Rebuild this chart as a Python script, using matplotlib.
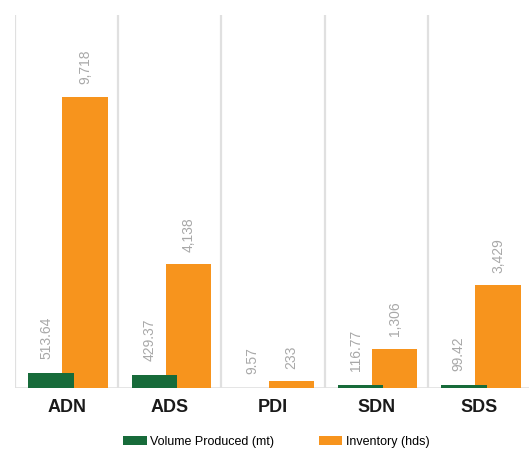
import matplotlib
matplotlib.use('Agg')
from matplotlib import pyplot as plt
import numpy as np

# 数据
categories = ['ADN', 'ADS', 'PDI', 'SDN', 'SDS']
volume_produced = [513.64, 429.37, 9.57, 116.77, 99.42]
inventory = [9718, 4138, 233, 1306, 3429]
volume_labels = ['513.64', '429.37', '9.57', '116.77', '99.42']
inventory_labels = ['9,718', '4,138', '233', '1,306', '3,429']

plt.rcParams['font.family'] = ['Liberation Sans Narrow', 'Liberation Sans', 'DejaVu Sans']

green = '#176b3a'
orange = '#f7941d'
grey_text = '#a8a8a8'

fig = plt.figure(figsize=(5.29, 4.5), dpi=100)
ax = fig.add_axes([15 / 529, 1 - 388 / 450, 516 / 529, 373 / 450])

x = np.arange(len(categories))
width = 0.44
off_green = -0.15
off_orange = 0.18

# 分隔线
for b in np.arange(-0.5, len(categories) - 0.5, 1):
    ax.axvline(b, color='#e0e0e0', linewidth=1.6, zorder=0)
ax.axhline(0, color='#e0e0e0', linewidth=1.2, zorder=0)

ax.bar(x + off_orange, inventory, width, color=orange, label='Inventory (hds)', zorder=2)
ax.bar(x + off_green, volume_produced, width, color=green, label='Volume Produced (mt)', zorder=3)

# 数值标签
for i in range(len(categories)):
    ax.annotate(volume_labels[i], (x[i] + off_green - 0.05, volume_produced[i]),
                xytext=(0, 10), textcoords='offset points', rotation=90,
                ha='center', va='bottom', fontsize=10, color=grey_text)
    ax.annotate(inventory_labels[i], (x[i] + off_orange, inventory[i]),
                xytext=(0, 9), textcoords='offset points', rotation=90,
                ha='center', va='bottom', fontsize=10, color=grey_text)

ax.set_xlim(-0.5, len(categories) - 0.5)
ax.set_ylim(0, 9718 * 373 / 291)
ax.set_xticks(x)
ax.set_xticklabels(categories, fontsize=13, fontweight='bold', color='#1a1a1a',
                   family=['Liberation Sans', 'DejaVu Sans'])
ax.tick_params(axis='x', length=0, pad=8)
ax.set_yticks([])
for s in ax.spines.values():
    s.set_visible(False)

handles, labels = ax.get_legend_handles_labels()
fig.legend(handles[::-1], labels[::-1], loc='lower center', ncol=2,
           bbox_to_anchor=(276 / 529, -0.02), frameon=False, fontsize=9,
           handlelength=1.9, handleheight=0.8, columnspacing=3.6, handletextpad=0.25)

fig.savefig('out.png', dpi=100)
